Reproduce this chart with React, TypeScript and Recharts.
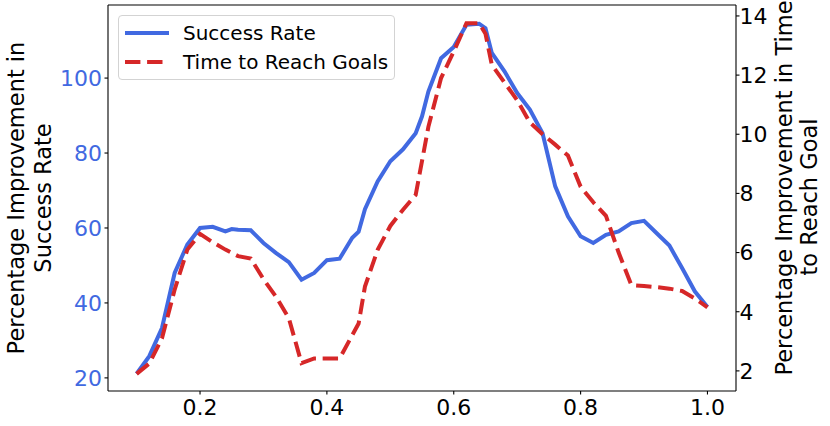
import React from "react";
import { Legend, Line, LineChart, ReferenceLine, XAxis, YAxis } from "recharts";

const successX = [
  0.1, 0.12, 0.14, 0.16, 0.18, 0.2, 0.22, 0.24, 0.25, 0.26, 0.28, 0.3, 0.32, 0.34, 0.36, 0.38, 0.4,
  0.42, 0.44, 0.45, 0.46, 0.48, 0.5, 0.52, 0.54, 0.55, 0.56, 0.58, 0.6, 0.62, 0.64, 0.65, 0.66, 0.68,
  0.7, 0.72, 0.74, 0.76, 0.78, 0.8, 0.82, 0.84, 0.86, 0.88, 0.9, 0.92, 0.94, 0.96, 0.98, 1.0,
];
const successRate = [
  21.1, 25.8, 33.3, 48, 55.6, 60, 60.3, 59.1, 59.7, 59.5, 59.4, 56, 53.3, 50.9, 46.2, 48, 51.4, 51.8,
  57.4, 59, 65, 72.4, 77.8, 81, 85.3, 89.8, 96.4, 105.3, 108.3, 114.2, 114.5, 113.3, 106.7, 101.8, 96,
  91.6, 85.3, 71.1, 63.1, 57.8, 56, 58.2, 59.1, 61.3, 61.9, 58.6, 55.3, 49.3, 43.1, 38.9,
];

const timeX = [
  0.1, 0.12, 0.14, 0.16, 0.18, 0.2, 0.22, 0.24, 0.26, 0.28, 0.3, 0.32, 0.34, 0.36, 0.38, 0.4, 0.42,
  0.45, 0.46, 0.48, 0.5, 0.52, 0.54, 0.56, 0.58, 0.6, 0.62, 0.64, 0.65, 0.66, 0.68, 0.7, 0.72, 0.74,
  0.76, 0.78, 0.8, 0.82, 0.84, 0.86, 0.88, 0.9, 0.92, 0.94, 0.96, 0.98, 1.0,
];
const timeToGoal = [
  1.9, 2.25, 3.1, 4.75, 6.1, 6.63, 6.35, 6.1, 5.88, 5.8, 5.1, 4.5, 3.78, 2.26, 2.42, 2.42, 2.42, 3.6,
  4.85, 6.09, 6.9, 7.45, 7.95, 10.25, 11.9, 12.8, 13.75, 13.75, 13.4, 12.35, 11.75, 11.15, 10.4, 10.0,
  9.65, 9.28, 8.23, 7.7, 7.24, 6.0, 4.9, 4.87, 4.83, 4.78, 4.7, 4.45, 4.15,
];

const xTicks = [0.2, 0.4, 0.6, 0.8, 1.0];
const leftTicks = [20, 40, 60, 80, 100];
const rightTicks = [2, 4, 6, 8, 10, 12, 14];

const BLUE = "#4169e1";
const RED = "#d62728";
const DASH = "15.4 6.7";
const FONT = "DejaVu Sans";
const LEFT_MAX = 119.5;

const successData = successX.map((x, i) => ({ x, value: successRate[i] }));
const timeData = timeX.map((x, i) => ({ x, value: timeToGoal[i] }));

const legendItems = [
  { name: "Success Rate", color: BLUE, dash: undefined },
  { name: "Time to Reach Goals", color: RED, dash: DASH },
];

function renderLegend() {
  return (
    <div
      style={{
        position: "relative",
        width: 277,
        height: 65,
        boxSizing: "border-box",
        border: "1px solid #d3d3d3",
        borderRadius: 4,
        background: "rgba(255,255,255,0.8)",
        fontFamily: FONT,
        fontSize: 20,
        color: "#000",
      }}
    >
      {legendItems.map((item, i) => (
        <div
          key={item.name}
          style={{
            position: "absolute",
            left: 6,
            top: 4.6 + i * 29.4,
            height: 24,
            display: "flex",
            alignItems: "center",
            whiteSpace: "nowrap",
          }}
        >
          <svg width={44} height={8} style={{ display: "block" }}>
            <line x1={0} y1={4} x2={44} y2={4} stroke={item.color} strokeWidth={4} strokeDasharray={item.dash} />
          </svg>
          <span style={{ marginLeft: 14, lineHeight: "24px" }}>{item.name}</span>
        </div>
      ))}
    </div>
  );
}

function LeftLabel() {
  return (
    <g fontFamily={FONT} fontSize={22.5} fill="#000" textAnchor="middle">
      <text transform="rotate(-90)" x={-198} y={24}>
        Percentage Improvement in
      </text>
      <text transform="rotate(-90)" x={-198} y={50.7}>
        Success Rate
      </text>
    </g>
  );
}

function RightLabel() {
  return (
    <g fontFamily={FONT} fontSize={22.5} fill="#000" textAnchor="middle">
      <text transform="rotate(-90)" x={-188} y={791.7}>
        Percentage Improvement in Time
      </text>
      <text transform="rotate(-90)" x={-197} y={816.7}>
        to Reach Goal
      </text>
    </g>
  );
}

export default function App() {
  return (
    <div style={{ position: "absolute", left: 0, top: 0, background: "#fff" }}>
      <LineChart width={830} height={426} margin={{ top: 5, right: 0, bottom: 0, left: 0 }}>
        <XAxis
          dataKey="x"
          type="number"
          domain={[0.0549, 1.045]}
          allowDataOverflow
          ticks={xTicks}
          tickFormatter={(v: number) => v.toFixed(1)}
          height={35}
          tickSize={3.5}
          tickMargin={5}
          axisLine={{ stroke: "#000", strokeWidth: 1.1 }}
          tickLine={{ stroke: "#000", strokeWidth: 1.1 }}
          tick={{ fill: "#000", fontSize: 22, fontFamily: FONT }}
        />
        <YAxis
          yAxisId="left"
          type="number"
          domain={[16.5, LEFT_MAX]}
          allowDataOverflow
          ticks={leftTicks}
          width={108}
          tickSize={3.5}
          tickMargin={2.5}
          axisLine={{ stroke: "#000", strokeWidth: 1.1 }}
          tickLine={{ stroke: "#000", strokeWidth: 1.1 }}
          tick={{ fill: BLUE, fontSize: 22, fontFamily: FONT }}
          label={{ content: LeftLabel }}
        />
        <YAxis
          yAxisId="right"
          orientation="right"
          type="number"
          domain={[1.32, 14.37]}
          allowDataOverflow
          ticks={rightTicks}
          width={94}
          tickSize={3.5}
          tickMargin={0}
          axisLine={{ stroke: "#000", strokeWidth: 1.1 }}
          tickLine={{ stroke: "#000", strokeWidth: 1.1 }}
          tick={{ fill: "#000", fontSize: 22, fontFamily: FONT }}
          label={{ content: RightLabel }}
        />
        {/* top spine */}
        <ReferenceLine yAxisId="left" y={LEFT_MAX} stroke="#000" strokeWidth={1.1} ifOverflow="extendDomain" />
        <Line
          yAxisId="left"
          data={successData}
          dataKey="value"
          name="Success Rate"
          type="linear"
          stroke={BLUE}
          strokeWidth={4}
          dot={false}
          isAnimationActive={false}
        />
        <Line
          yAxisId="right"
          data={timeData}
          dataKey="value"
          name="Time to Reach Goals"
          type="linear"
          stroke={RED}
          strokeWidth={4}
          strokeDasharray={DASH}
          dot={false}
          isAnimationActive={false}
        />
        <Legend
          layout="vertical"
          align="center"
          verticalAlign="middle"
          content={renderLegend}
          wrapperStyle={{ left: 118, top: 15, width: 277, height: 65 }}
        />
      </LineChart>
    </div>
  );
}
